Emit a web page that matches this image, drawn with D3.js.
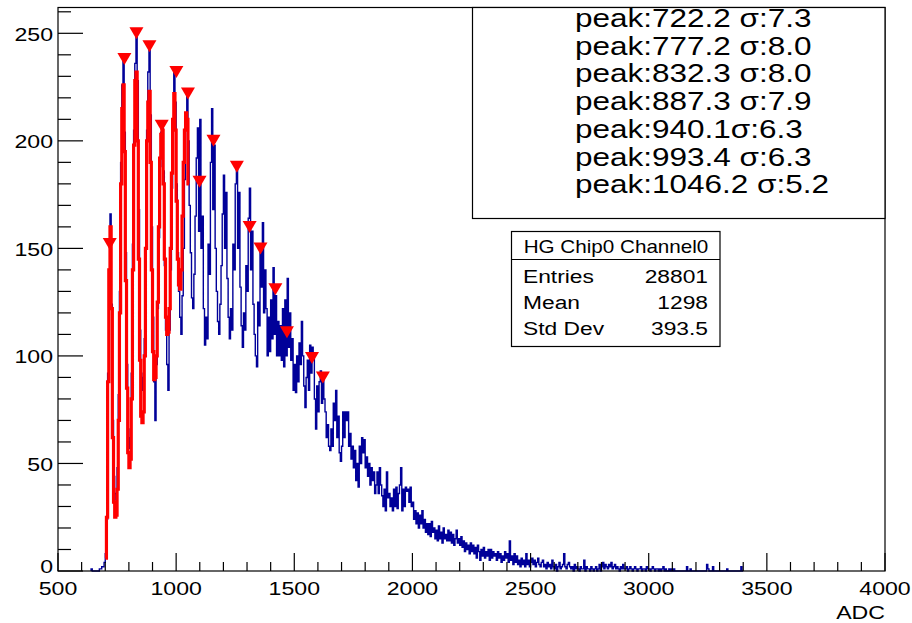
<!DOCTYPE html>
<html>
<head>
<meta charset="utf-8">
<script src="https://cdn.jsdelivr.net/npm/d3@7"></script>
<style>
  html, body { margin: 0; padding: 0; background: #fff; }
  svg { display: block; }
  text { font-family: "Liberation Sans", Arial, Helvetica, sans-serif; fill: #000; }
</style>
</head>
<body>
<svg id="chart" width="912" height="623"></svg>
<script>
// ADC spectrum, 5-ADC bins starting at 640
const binWidth = 5;
const binStart = 640;

// counts 640 .. 1095
const countsLow = [
  1, 0, 0, 0, 0, 0, 0, 1, 1, 2, 2, 4,
  8, 24, 92, 140, 166, 124, 70, 44, 36, 33, 48,
  82, 130, 190, 226, 238, 204, 148, 96, 66, 57, 62,
  92, 152, 205, 236, 250, 228, 168, 112, 92, 84, 90,
  108, 150, 205, 232, 244, 212, 160, 118, 88, 70, 96,
  122, 155, 188, 204, 208, 186, 142, 112, 96, 84, 112,
  140, 178, 208, 232, 218, 180, 148, 130, 118, 110, 128,
  150, 182, 205, 222, 200, 170, 148, 127, 122, 138,
  165, 192, 206, 158
];
// counts 1100 .. 1695
const countsMid = [
  210, 150, 165, 122, 105, 118, 108, 152, 138, 190,
  215, 168, 198, 150, 130, 116, 110, 124, 142, 166,
  184, 150, 176, 136, 118, 108, 122, 112, 152, 140,
  180, 189, 150, 176, 132, 114, 104, 120, 112, 142,
  130, 164, 178, 140, 158, 124, 110, 100, 95, 125,
  114, 150, 132, 162, 120, 140, 122, 100, 118, 102,
  126, 108, 141, 110, 128, 100, 116, 100, 114, 98,
  122, 95, 126, 100, 136, 104, 120, 98, 108, 84,
  96, 83, 100, 88, 106, 96, 116, 100, 86, 76,
  90, 98, 84, 105, 92, 104, 99, 80, 66, 86,
  74, 88, 93, 78, 92, 80, 74, 62, 68, 58,
  56, 66, 58, 78, 70, 84, 62, 72, 55, 51
];
// counts 1700 .. 2495
const countsHigh = [
  58, 74, 62, 74, 70, 74, 58, 64, 52, 58,
  48, 56, 42, 50, 39, 58, 50, 62, 55, 61,
  48, 53, 44, 50, 40, 48, 42, 46, 36, 40,
  46, 36, 48, 40, 35, 30, 38, 28, 46, 34,
  36, 30, 34, 28, 38, 30, 39, 29, 36, 40,
  48, 28, 38, 30, 39, 37, 38, 32, 39, 30,
  32, 24, 28, 22, 27, 20, 26, 22, 28, 20,
  24, 18, 22, 17, 22, 16, 23, 18, 20, 15,
  19, 14, 21, 15, 18, 13, 20, 15, 17, 14,
  19, 14, 18, 13, 17, 12, 15, 19, 13, 15,
  12, 16, 11, 14, 9, 13, 10, 12, 8, 13,
  9, 12, 8, 11, 6, 12, 9, 5, 10, 7,
  11, 6, 9, 7, 10, 5, 10, 6, 9, 7,
  8, 5, 9, 6, 8, 4, 7, 5, 9, 6,
  8, 4, 14, 5, 7, 3, 8, 4, 7, 3,
  5, 2, 6, 3, 5, 2, 8, 3, 5, 2
];
// counts 2500 .. 3395
const countsTail = [
  4, 6, 3, 5, 2, 4, 6, 3, 2, 4,
  5, 2, 3, 1, 4, 2, 3, 1, 5, 2,
  1, 3, 0, 2, 4, 1, 2, 3, 8, 2,
  1, 3, 4, 2, 1, 2, 0, 3, 1, 2,
  1, 0, 2, 1, 1, 5, 0, 2, 1, 1,
  0, 2, 1, 0, 1, 2, 0, 1, 3, 0,
  2, 4, 1, 3, 2, 1, 3, 2, 4, 1,
  2, 3, 1, 2, 1, 0, 2, 1, 3, 1,
  1, 2, 0, 1, 2, 1, 0, 1, 2, 1,
  0, 1, 1, 2, 0, 1, 1, 0, 2, 1,
  1, 0, 1, 2, 1, 0, 1, 1, 0, 1,
  0, 1, 2, 0, 1, 0, 0, 1, 0, 1,
  0, 1, 0, 0, 0, 0, 0, 0, 0, 0,
  0, 0, 2, 0, 0, 1, 0, 0, 0, 0,
  0, 0, 0, 0, 0, 0, 0, 0, 0, 3,
  1, 0, 0, 0, 2, 0, 0, 0, 0, 0,
  0, 0, 0, 0, 0, 0, 1, 0, 0, 0,
  0, 0, 0, 0, 0, 0, 0, 0, 2, 0
];

// multi-peak fit over 700 .. 1055, same 5-ADC steps
const fitStart = 700;
const fitValues = [
  6, 25, 88, 140, 160, 122, 62, 32, 25, 26, 38,
  70, 120, 180, 215, 226, 195, 135, 85, 55, 48, 52,
  80, 140, 198, 228, 232, 200, 145, 98, 72, 69, 74,
  100, 150, 200, 218, 223, 190, 140, 102, 89, 90, 100,
  125, 160, 192, 203, 205, 180, 145, 118, 110, 111, 122,
  150, 185, 210, 222, 205, 172, 145, 133, 131, 140,
  165, 190, 205, 213, 210, 180
];

// peaks found by the search (ADC, counts)
const markerX = [719, 781, 832, 887, 939, 1001, 1050, 1099, 1158, 1257, 1311, 1357, 1420, 1469, 1575, 1621];
const markerY = [152, 238, 250, 244, 207, 232, 222, 181, 200, 188, 160, 150, 131, 111, 99, 90];

// fitted peak parameters
const peakPos = ["722.2", "777.2", "832.3", "887.3", "940.1", "993.4", "1046.2"];
const peakSigma = ["7.3", "8.0", "8.0", "7.9", "6.3", "6.3", "5.2"];
const peakGap = [" ", " ", " ", " ", "", " ", " "];

// statistics box
const statsTitle = "HG Chip0 Channel0";
const statsLabels = ["Entries", "Mean", "Std Dev"];
const statsValues = ["28801", "1298", "393.5"];

// axes
const xTicks = [500, 1000, 1500, 2000, 2500, 3000, 3500, 4000];
const yTicks = [0, 50, 100, 150, 200, 250];
const xTitle = "ADC";

const svg = d3.select("#chart");
const x = d3.scaleLinear().domain([500, 4000]).range([58, 885]);
const y = d3.scaleLinear().domain([0, 262]).range([571, 7.5]);

const counts = countsLow.concat(countsMid, countsHigh, countsTail);

function stepPoints(start, values) {
  const pts = [[start, 0]];
  values.forEach((v, i) => {
    const a = start + i * binWidth;
    pts.push([a, v], [a + binWidth, v]);
  });
  pts.push([start + values.length * binWidth, 0]);
  return pts;
}
const line = d3.line().x(d => x(d[0])).y(d => y(d[1]));

// histogram
svg.append("path")
  .attr("d", line(stepPoints(binStart, counts)))
  .attr("fill", "none")
  .attr("stroke", "#000099")
  .attr("stroke-width", 1.4)
  .attr("stroke-linejoin", "miter");

// fit curve
const fitPts = fitValues.flatMap((v, i) => {
  const a = fitStart + i * binWidth;
  return [[a, v], [a + binWidth, v]];
});
svg.append("path")
  .attr("d", line(fitPts))
  .attr("fill", "none")
  .attr("stroke", "#ff0000")
  .attr("stroke-width", 3.2)
  .attr("stroke-linejoin", "miter");

// peak markers (downward triangles)
svg.append("g").selectAll("path")
  .data(markerX.map((m, i) => [m, markerY[i]]))
  .join("path")
  .attr("d", d => {
    const cx = x(d[0]), cy = y(d[1]);
    return `M${cx - 7},${cy - 6}L${cx + 7},${cy - 6}L${cx},${cy + 6}Z`;
  })
  .attr("fill", "#ff0000");

// frame
svg.append("rect")
  .attr("x", x(500)).attr("y", y(262))
  .attr("width", x(4000) - x(500)).attr("height", y(0) - y(262))
  .attr("fill", "none").attr("stroke", "#000").attr("stroke-width", 1.2);

// ticks
const gt = svg.append("g").attr("stroke", "#000").attr("stroke-width", 1.2);
d3.range(500, 4001, 100).forEach(v => {
  const major = v % 500 === 0;
  gt.append("line").attr("x1", x(v)).attr("x2", x(v))
    .attr("y1", y(0)).attr("y2", y(0) - (major ? 18 : 9));
});
d3.range(0, 261, 10).forEach(v => {
  const major = v % 50 === 0;
  gt.append("line").attr("x1", x(500)).attr("x2", x(500) + (major ? 25 : 13))
    .attr("y1", y(v)).attr("y2", y(v));
});

function label(g, tx, ty, str, size, sx, anchor) {
  return g.append("text")
    .attr("transform", `translate(${tx},${ty}) scale(${sx},1)`)
    .attr("font-size", size)
    .attr("text-anchor", anchor)
    .text(str);
}

const gl = svg.append("g");
xTicks.forEach(v => label(gl, x(v), 595, String(v), 18.5, 1.25, "middle"));
yTicks.forEach(v => label(gl, 53, Math.min(y(v) + 7.5, 573), String(v), 18.5, 1.25, "end"));
label(gl, 885, 619, xTitle, 18.5, 1.25, "end");

// peak list box
const pb = svg.append("g");
pb.append("rect")
  .attr("x", 472.5).attr("y", 7.5).attr("width", 412.5).attr("height", 211)
  .attr("fill", "#fff").attr("stroke", "#000").attr("stroke-width", 1.2);
peakPos.forEach((p, i) => {
  label(pb, 575, 27 + i * 27.7, `peak:${p}${peakGap[i]}σ:${peakSigma[i]}`, 25, 1.26, "start");
});

// statistics box
const sb = svg.append("g");
sb.append("rect")
  .attr("x", 511.5).attr("y", 231.5).attr("width", 208.5).attr("height", 115)
  .attr("fill", "#fff").attr("stroke", "#000").attr("stroke-width", 1.2);
sb.append("line").attr("x1", 511.5).attr("x2", 720).attr("y1", 259.5).attr("y2", 259.5)
  .attr("stroke", "#000").attr("stroke-width", 1.2);
label(sb, 616, 253, statsTitle, 17.5, 1.18, "middle");
statsLabels.forEach((s, i) => {
  label(sb, 523, 283 + i * 26, s, 19, 1.2, "start");
  label(sb, 708, 283 + i * 26, statsValues[i], 19, 1.2, "end");
});
</script>
</body>
</html>
